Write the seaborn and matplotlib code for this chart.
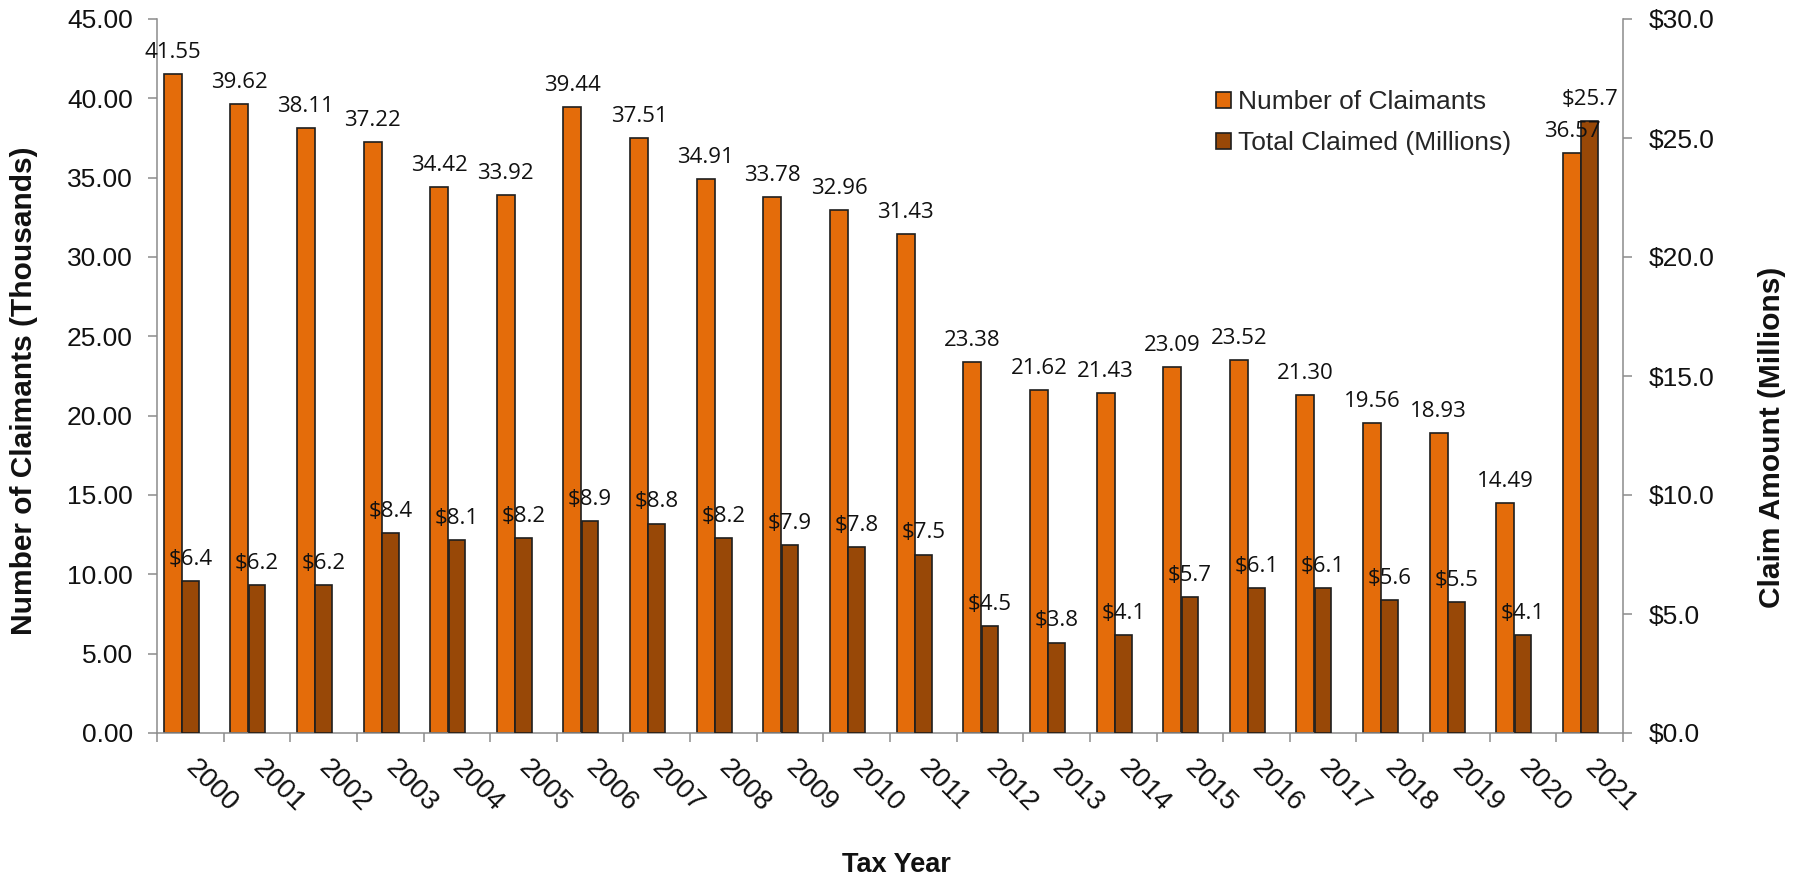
import numpy as np
import matplotlib
matplotlib.use("Agg")
import matplotlib.pyplot as plt
import matplotlib.transforms as mtrans
from matplotlib.patches import Patch
from matplotlib.ticker import FixedLocator, FuncFormatter, NullFormatter
import seaborn as sns

# Claimants and claimed amounts by tax year
years = [2000, 2001, 2002, 2003, 2004, 2005, 2006, 2007, 2008, 2009, 2010,
         2011, 2012, 2013, 2014, 2015, 2016, 2017, 2018, 2019, 2020, 2021]
claimants_thousands = [41.55, 39.62, 38.11, 37.22, 34.42, 33.92, 39.44, 37.51,
                       34.91, 33.78, 32.96, 31.43, 23.38, 21.62, 21.43, 23.09,
                       23.52, 21.30, 19.56, 18.93, 14.49, 36.57]
claimed_millions = [6.4, 6.2, 6.2, 8.4, 8.1, 8.2, 8.9, 8.8, 8.2, 7.9, 7.8,
                    7.5, 4.5, 3.8, 4.1, 5.7, 6.1, 6.1, 5.6, 5.5, 4.1, 25.7]
series_names = ["Number of Claimants", "Total Claimed (Millions)"]

ORANGE = "#E46C0A"
BROWN = "#984807"
EDGE = "#1e1e1e"
GRAY = "#8c8c8c"
LABEL_FONT = ["Open Sans", "DejaVu Sans"]
OFFSET = 0.265

sns.set_theme(style="white")
plt.rcParams["font.family"] = ["Liberation Sans", "DejaVu Sans"]

W, H = 1807, 882
fig = plt.figure(figsize=(W / 100, H / 100), dpi=100)
ax = fig.add_axes([157 / W, 1 - 733 / H, (1623 - 157) / W, (733 - 19) / H])
ax2 = ax.twinx()

x = np.array(years, dtype=float)
sns.barplot(x=x - OFFSET, y=claimants_thousands, native_scale=True, width=0.27,
            color=ORANGE, saturation=1, edgecolor=EDGE, linewidth=1.2, ax=ax)
sns.barplot(x=x, y=claimed_millions, native_scale=True, width=0.25,
            color=BROWN, saturation=1, edgecolor=EDGE, linewidth=1.2, ax=ax2)

# value labels (all on the top axes so they sit above every bar)
for xi, v in zip(x, claimants_thousands):
    ax2.annotate(f"{v:.2f}", xy=(xi - OFFSET, v), xycoords=ax.transData,
                 xytext=(0, 8), textcoords="offset points", ha="center", va="bottom",
                 fontsize=16, family=LABEL_FONT, color="#111111")
for xi, v in zip(x, claimed_millions):
    ax2.annotate(f"${v:.1f}", xy=(xi, v), xycoords=ax2.transData,
                 xytext=(0, 8), textcoords="offset points", ha="center", va="bottom",
                 fontsize=16, family=LABEL_FONT, color="#111111")

# x axis: boundary ticks, year labels between them
ax.set_xlim(years[0] - 0.5, years[-1] + 0.5)
ax.xaxis.set_major_locator(FixedLocator(np.arange(years[0] - 0.5, years[-1] + 1, 1.0)))
ax.xaxis.set_major_formatter(NullFormatter())
ax.set_xticks(years, labels=[str(y) for y in years], minor=True)
ax.tick_params(axis="x", which="major", bottom=True, length=6.5, width=1.1,
               color=GRAY, direction="out")
ax.tick_params(axis="x", which="minor", bottom=True, length=0, pad=16,
               labelsize=20, labelcolor="#111111")
shift = mtrans.ScaledTranslation(6 / 72, 0, fig.dpi_scale_trans)
for lbl in ax.get_xticklabels(minor=True):
    lbl.set_rotation(-45)
    lbl.set_ha("left")
    lbl.set_va("top")
    lbl.set_rotation_mode("anchor")
    lbl.set_transform(lbl.get_transform() + shift)

# left axis
ax.set_ylim(0, 45)
ax.set_yticks(np.arange(0, 46, 5))
ax.yaxis.set_major_formatter(FuncFormatter(lambda v, p: f"{v:.2f}"))
ax.tick_params(axis="y", left=True, length=6.5, width=1.1, color=GRAY, pad=11,
               labelsize=19, labelcolor="#111111")

# right axis
ax2.set_ylim(0, 30)
ax2.set_yticks(np.arange(0, 31, 5))
ax2.yaxis.set_major_formatter(FuncFormatter(lambda v, p: f"${v:.1f}"))
ax2.tick_params(axis="y", right=True, length=6.5, width=1.1, color=GRAY, pad=12,
                labelsize=19, labelcolor="#111111")

for a in (ax, ax2):
    a.set_xlabel("")
    a.set_ylabel("")
    a.grid(False)
    for s in a.spines.values():
        s.set_color(GRAY)
        s.set_linewidth(1.1)
ax.spines["top"].set_visible(False)
ax.spines["right"].set_visible(False)
ax2.spines["top"].set_visible(False)
ax2.spines["left"].set_visible(False)
ax2.spines["bottom"].set_visible(False)

handles = [Patch(facecolor=ORANGE, edgecolor=EDGE, linewidth=1.2, label=series_names[0]),
           Patch(facecolor=BROWN, edgecolor=EDGE, linewidth=1.2, label=series_names[1])]
ax2.legend(handles=handles, loc="upper left", bbox_to_anchor=(1216 / W, 1 - 90 / H),
           bbox_transform=fig.transFigure, frameon=False, fontsize=19,
           handlelength=0.55, handleheight=0.55, handletextpad=0.3,
           labelspacing=0.65, borderpad=0, borderaxespad=0)

fig.text(24 / W, 1 - 391 / H, "Number of Claimants (Thousands)", rotation=90,
         ha="center", va="center", fontsize=21.5, fontweight="bold", color="#111111")
fig.text(1772 / W, 1 - 437 / H, "Claim Amount (Millions)", rotation=90,
         ha="center", va="center", fontsize=21.5, fontweight="bold", color="#111111")
fig.text(896 / W, 1 - 865 / H, "Tax Year", ha="center", va="center",
         fontsize=19.5, fontweight="bold", color="#111111")

fig.savefig("out.png", dpi=100)
